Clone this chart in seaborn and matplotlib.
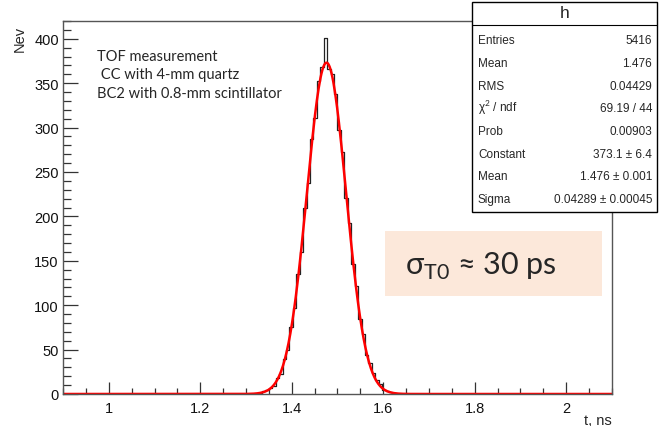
import numpy as np
import pandas as pd
import matplotlib
matplotlib.use("Agg")
import matplotlib.pyplot as plt
from matplotlib.patches import Rectangle
from matplotlib.ticker import MultipleLocator
import seaborn as sns

# histogram binning (ROOT style: 160 bins from 0.9 to 2.1 ns)
x_min, x_max, n_bins = 0.9, 2.1, 160
# counts of the non-empty bins, first one starts at t = 1.3275 ns
first_edge = 1.3275
counts = [1, 3, 4, 7, 9, 18, 23, 39, 50, 76,
          97, 135, 160, 210, 238, 287, 311, 352, 368, 401,
          366, 360, 338, 297, 272, 221, 192, 146, 122, 84,
          68, 44, 35, 24, 16, 11, 5, 3, 2, 1]

# gaussian fit results from the stats box
fit_const, fit_mean, fit_sigma = 373.1, 1.476, 0.04289

stat_names = ["Entries", "Mean", "RMS", "\u03c7$^{2}$ / ndf", "Prob",
              "Constant", "Mean", "Sigma"]
stat_values = ["5416", "1.476", "0.04429", "69.19 / 44", "0.00903",
               "373.1 \u00b1 6.4", "1.476 \u00b1 0.001", "0.04289 \u00b1 0.00045"]

info_lines = ["TOF measurement", " CC with 4-mm quartz", "BC2 with 0.8-mm scintillator"]

# build full histogram table
edges = np.linspace(x_min, x_max, n_bins + 1)
width = edges[1] - edges[0]
full = np.zeros(n_bins)
i0 = int(round((first_edge - x_min) / width))
full[i0:i0 + len(counts)] = counts
hist = pd.DataFrame({"t": edges[:-1] + width / 2, "n": full})

t_fit = np.linspace(x_min, x_max, 600)
fit = pd.DataFrame({"t": t_fit,
                    "f": fit_const * np.exp(-0.5 * ((t_fit - fit_mean) / fit_sigma) ** 2)})

sns.set_style("ticks")
plt.rcParams["font.family"] = ["Liberation Sans", "DejaVu Sans"]
plt.rcParams["mathtext.fontset"] = "custom"
plt.rcParams["mathtext.rm"] = "Liberation Sans"

W, H = 660, 427
fig = plt.figure(figsize=(6.6, 4.27), dpi=100)
ax = fig.add_axes([63 / W, 1 - 395 / H, (612 - 63) / W, (395 - 22) / H])

sns.histplot(data=hist, x="t", weights="n", binwidth=width, binrange=(x_min, x_max),
             element="step", fill=False, color="#222222", linewidth=0.9, ax=ax)
sns.lineplot(data=fit, x="t", y="f", color="#ff0000", linewidth=1.8, ax=ax)

ax.set_xlim(x_min, x_max)
ax.set_ylim(0, 420)
ax.set_xlabel("")
ax.set_ylabel("")
ax.xaxis.set_major_locator(MultipleLocator(0.2))
ax.xaxis.set_minor_locator(MultipleLocator(0.05))
ax.yaxis.set_major_locator(MultipleLocator(50))
ax.yaxis.set_minor_locator(MultipleLocator(10))
ax.set_xticks([1, 1.2, 1.4, 1.6, 1.8, 2])
ax.set_xticklabels(["1", "1.2", "1.4", "1.6", "1.8", "2"])
ax.tick_params(axis="x", which="major", direction="in", length=8.5, width=0.9,
               labelsize=10.5, pad=5, color="#333333", labelcolor="#111111")
ax.tick_params(axis="x", which="minor", direction="in", length=4.5, width=0.9, color="#333333")
ax.tick_params(axis="y", which="major", direction="in", length=10.5, width=0.9,
               labelsize=10.5, pad=3, color="#333333", labelcolor="#111111")
ax.tick_params(axis="y", which="minor", direction="in", length=5.5, width=0.9, color="#333333")
for s in ax.spines.values():
    s.set_visible(True)
    s.set_color("#555555")
    s.set_linewidth(1.0)

fig.text(20 / W, 1 - 26 / H, "Nev", rotation=90, ha="center", va="top", fontsize=10.5)
fig.text(612 / W, 1 - 421 / H, "t, ns", ha="right", va="center", fontsize=10.5)

# info text
for k, line in enumerate(info_lines):
    fig.text(97 / W, 1 - (57 + 18.5 * k) / H, line, ha="left", va="center",
             fontsize=10.5, family=["Lato", "DejaVu Sans"])

# stats box
fig.patches.append(Rectangle((472 / W, 1 - 213 / H), 185 / W, 210 / H, transform=fig.transFigure,
                             facecolor="white", edgecolor="black", linewidth=1.0, zorder=5))
fig.add_artist(plt.Line2D([472 / W, 657 / W], [1 - 26 / H, 1 - 26 / H], transform=fig.transFigure,
                          color="black", linewidth=0.8, zorder=6))
fig.text(565 / W, 1 - 14 / H, "h", ha="center", va="center", fontsize=12.5, zorder=7)
for k, (nm, val) in enumerate(zip(stat_names, stat_values)):
    y = 1 - (41.5 + 22.6 * k) / H
    fig.text(478 / W, y, nm, ha="left", va="center", fontsize=8.5, zorder=7)
    fig.text(652 / W, y, val, ha="right", va="center", fontsize=8.5, zorder=7)

# sigma annotation
fig.patches.append(Rectangle((385 / W, 1 - 297 / H), 217 / W, 65 / H, transform=fig.transFigure,
                             facecolor="#fce8da", edgecolor="none", zorder=4))
plt.rcParams["mathtext.rm"] = "Lato"
fig.text(405 / W, 1 - 266 / H, "\u03c3$_{\\mathrm{T0}}$ \u2248 30 ps", ha="left", va="center",
         fontsize=22, family=["Lato", "DejaVu Sans"], zorder=7)

fig.savefig("out.png", dpi=100)
